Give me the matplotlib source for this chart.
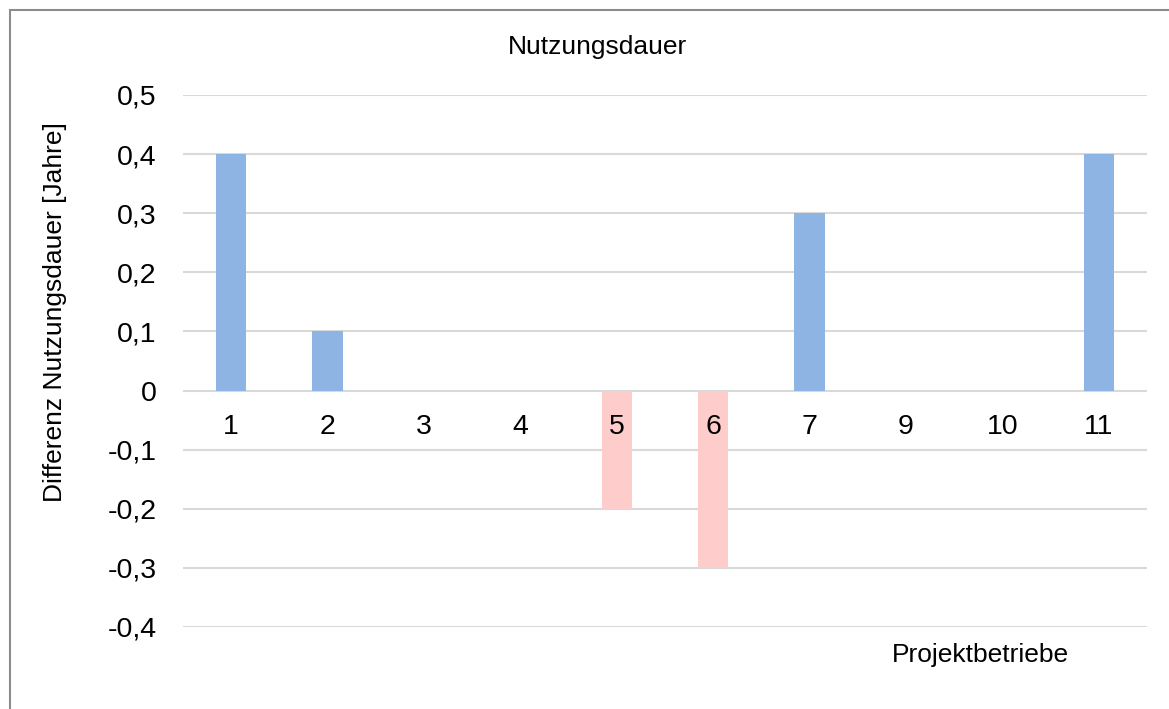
import matplotlib
matplotlib.use("Agg")
import matplotlib.pyplot as plt
from matplotlib.patches import Rectangle

categories = ["1", "2", "3", "4", "5", "6", "7", "9", "10", "11"]
values = [0.4, 0.1, 0.0, 0.0, -0.2, -0.3, 0.3, 0.0, 0.0, 0.4]
yticks = [-0.4, -0.3, -0.2, -0.1, 0.0, 0.1, 0.2, 0.3, 0.4, 0.5]
ytick_labels = ["-0,4", "-0,3", "-0,2", "-0,1", "0", "0,1", "0,2", "0,3", "0,4", "0,5"]

plt.rcParams['font.family'] = ['Liberation Sans', 'DejaVu Sans']

W, H = 1169, 709
fig = plt.figure(figsize=(W / 100, H / 100), dpi=100)
ax = fig.add_axes([183 / W, 1 - 627 / H, (1147 - 183) / W, (627 - 95) / H])

colors = ["#8EB4E3" if v >= 0 else "#FFCCCC" for v in values]
x = list(range(len(categories)))
ax.bar(x, values, width=0.315, color=colors, zorder=2)

ax.spines['bottom'].set_position(('data', 0))
for s in ax.spines.values():
    s.set_visible(False)
ax.set_xlim(-0.5, len(categories) - 0.5)
ax.set_ylim(-0.4, 0.5)
ax.set_yticks(yticks)
ax.set_yticklabels(ytick_labels, fontsize=20.5)
ax.grid(axis='y', color='#D9D9D9', linewidth=1.5)
ax.set_xticks(x)
ax.set_xticklabels(categories, fontsize=20.5)
ax.tick_params(axis='x', length=0, pad=17)
ax.tick_params(axis='y', length=0, pad=19)
ax.yaxis.set_zorder(1)
ax.xaxis.set_zorder(4)
ax.set_ylabel("Differenz Nutzungsdauer [Jahre]", fontsize=19)
ax.yaxis.set_label_coords(-(183 - 67) / (1147 - 183), (627 - 312) / (627 - 95))

fig.text(597 / W, 1 - 47 / H, "Nutzungsdauer", fontsize=19, ha='center', va='center')
fig.text(980 / W, 1 - 655 / H, "Projektbetriebe", fontsize=19, ha='center', va='center')

fig.patches.append(Rectangle((9.5 / W, -0.05), (W + 20) / W, 1 - 9.5 / H + 0.05,
                             transform=fig.transFigure, fill=False,
                             edgecolor='#8C8C8C', linewidth=1.5))

fig.savefig("out.png", dpi=100)
